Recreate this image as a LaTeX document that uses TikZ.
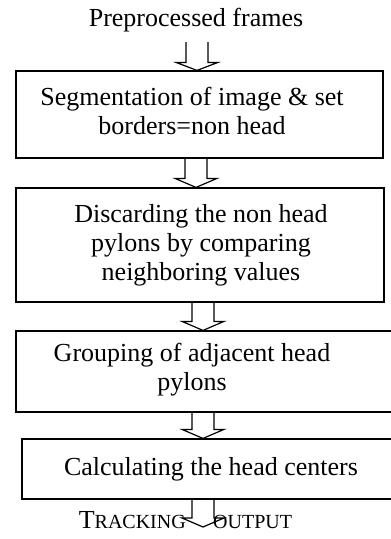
\documentclass[tikz,border=0pt]{standalone}
\usepackage{fontspec}
\setmainfont{Liberation Serif}
\usetikzlibrary{calc}
\begin{document}
\begin{tikzpicture}[x=1pt,y=-1pt,
  box/.style={draw, line width=1.2pt, inner sep=0pt},
  txt/.style={align=center, inner sep=0pt, font=\fontsize{26}{29}\selectfont},
  blk/.style={draw, line width=1.2pt, line join=miter}]
\useasboundingbox (0,0) rectangle (391,539);
% text above
\node[txt, anchor=base] (t0) at (196,26) {Preprocessed frames};
% boxes
\node[box, minimum width=367pt, minimum height=87pt] (b1) at (199.5,114.5) {};
\node[box, minimum width=368pt, minimum height=114pt] (b2) at (200,245) {};
\node[box, minimum width=380pt, minimum height=81pt] (b3) at (206,371.5) {};
\node[box, minimum width=374pt, minimum height=60pt] (b4) at (209,469) {};
% texts
\node[txt] (t1) at (192,111) {Segmentation of image \& set\\borders=non head};
\node[txt] (t2) at (201,245) {Discarding the non head\\pylons by comparing\\neighboring values};
\node[txt] (t3) at (192,370) {Grouping of adjacent head\\pylons};
\node[txt] (t4) at (211,469) {Calculating the head centers};
\node[anchor=base east, inner sep=0pt] (tr) at (186,528) {\fontsize{26}{29}\selectfont T\fontsize{20}{24}\selectfont RACKING};
\node[anchor=base west, inner sep=0pt] (ou) at (213,528) {\fontsize{20}{24}\selectfont OUTPUT};
% arrow anchors
\coordinate (a0) at (197,42);
\coordinate (e5) at (203,527);
% hollow block arrows: #1 start, #2 tip, #3 head length
\newcommand\hollowarrow[3]{%
  \draw[blk] let \p1=(#1), \p2=(#2) in
    ({\x2-11pt},\y1) -- ({\x2-11pt},{\y2+#3pt}) -- ({\x2-21pt},{\y2+#3pt}) -- (\x2,\y2)
    -- ({\x2+21pt},{\y2+#3pt}) -- ({\x2+11pt},{\y2+#3pt}) -- ({\x2+11pt},\y1);}
\hollowarrow{a0}{b1.north -| a0}{8}
\coordinate (a1) at (196,0);
\hollowarrow{b1.south -| a1}{b2.north -| a1}{9}
\coordinate (a2) at (203,0);
\hollowarrow{b2.south -| a2}{b3.north -| a2}{9}
\hollowarrow{b3.south -| a2}{b4.north -| a2}{9}
\hollowarrow{b4.south -| e5}{e5}{9}
\end{tikzpicture}
\end{document}
